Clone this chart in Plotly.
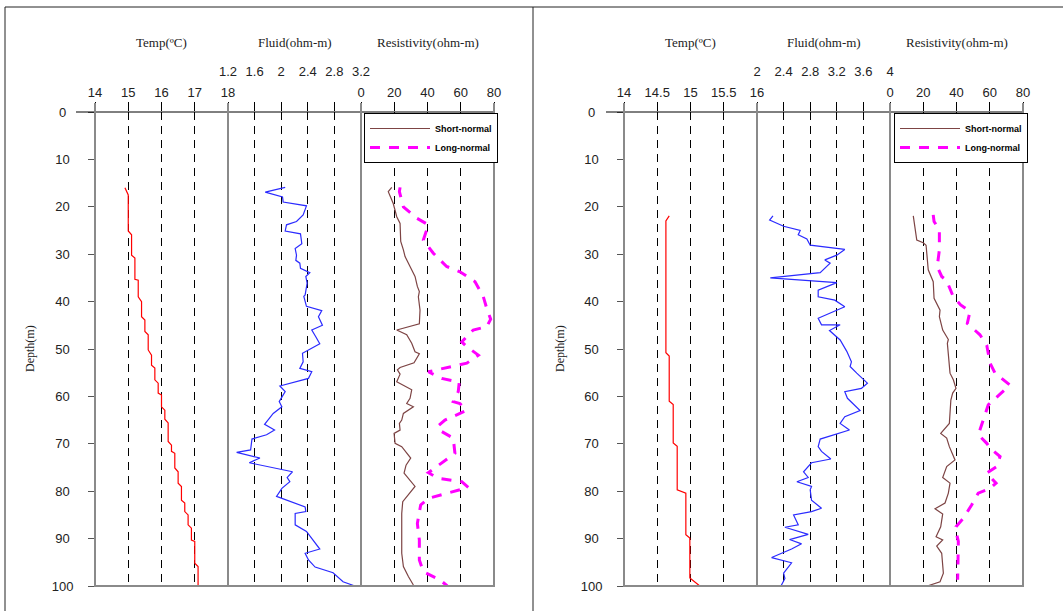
import plotly.graph_objects as go

W, H = 1063, 611

# ---------------- data : left well ----------------
L_temp_depth = [16.0, 17.5, 25.1, 25.9, 30.2, 30.8, 35.3, 35.5, 39.0, 40.0, 43.2, 43.9, 46.3, 47.0, 50.2,
                51.3, 53.4, 54.0, 56.5, 57.2, 59.3, 59.7, 62.2, 62.9, 64.8, 65.6, 69.5, 70.3, 71.6, 72.0,
                75.1, 75.9, 78.3, 79.0, 81.9, 82.5, 84.3, 85.0, 87.1, 87.8, 90.3, 90.6, 95.2, 95.9, 100.0]
L_temp = [14.9, 15.0, 15.0, 15.1, 15.1, 15.2, 15.2, 15.3, 15.3, 15.4, 15.4, 15.5, 15.5, 15.6, 15.6,
          15.7, 15.7, 15.8, 15.8, 15.9, 15.9, 16.0, 16.0, 16.1, 16.1, 16.2, 16.2, 16.3, 16.3, 16.4,
          16.4, 16.5, 16.5, 16.6, 16.6, 16.7, 16.7, 16.8, 16.8, 16.9, 16.9, 17.0, 17.0, 17.1, 17.1]

L_fluid_depth = [15.9, 16.9, 17.9, 19.0, 19.8, 21.7, 23.1, 23.8, 25.1, 25.7, 27.8, 28.8, 30.2, 31.3, 31.9,
                 33.0, 33.9, 34.7, 36.1, 38.6, 38.9, 41.0, 41.9, 43.2, 45.0, 46.0, 47.4, 48.9, 50.9, 52.7,
                 54.1, 54.8, 56.2, 57.8, 59.0, 61.1, 62.2, 63.6, 65.9, 67.1, 68.1, 69.0, 71.3, 71.8, 73.0,
                 74.0, 75.9, 77.1, 78.0, 79.4, 81.1, 83.3, 84.3, 84.7, 87.1, 88.5, 92.2, 93.1, 94.5, 96.0,
                 97.2, 99.1, 100.0]
L_fluid = [2.06, 1.76, 2.02, 2.03, 2.38, 2.33, 2.23, 2.08, 2.06, 2.29, 2.31, 2.21, 2.23, 2.22, 2.28,
           2.29, 2.43, 2.37, 2.39, 2.36, 2.34, 2.38, 2.61, 2.56, 2.62, 2.46, 2.52, 2.58, 2.32, 2.33,
           2.28, 2.46, 2.41, 1.98, 2.06, 1.97, 2.01, 1.88, 1.75, 1.90, 1.78, 1.56, 1.54, 1.33, 1.68,
           1.52, 2.17, 2.09, 2.13, 2.01, 1.93, 2.36, 2.37, 2.21, 2.21, 2.38, 2.58, 2.36, 2.41, 2.51,
           2.78, 2.93, 3.11]

L_sn_depth = [15.9, 16.8, 19.3, 22.1, 23.5, 27.3, 29.1, 30.5, 32.6, 34.7, 36.8, 37.9, 39.0, 41.8, 44.7,
              46.0, 47.0, 48.8, 50.6, 51.0, 52.9, 53.9, 54.4, 55.3, 56.9, 58.6, 60.4, 61.5, 62.2, 63.6,
              65.0, 65.7, 67.1, 67.8, 69.9, 70.6, 73.0, 74.5, 76.2, 77.6, 79.0, 82.2, 84.7, 93.1, 95.9,
              98.0, 99.8]
L_sn = [18.5, 16.4, 19.4, 21.5, 23.5, 23.9, 25.5, 26.5, 29.5, 32.5, 33.9, 35.1, 34.5, 35.5, 35.1,
        21.5, 27.5, 30.5, 32.5, 35.1, 31.9, 23.5, 21.9, 23.5, 21.5, 30.5, 29.5, 27.5, 31.5, 25.5,
        24.5, 23.1, 23.5, 19.9, 20.5, 24.5, 29.9, 27.1, 25.9, 29.1, 32.5, 25.1, 24.5, 24.5, 25.5,
        28.5, 31.5]

L_ln_depth = [15.9, 16.8, 20.0, 22.4, 23.8, 27.0, 29.8, 32.6, 33.7, 35.8, 39.0, 41.4, 43.7, 45.3, 46.0,
              48.5, 49.5, 51.3, 53.0, 53.9, 54.8, 56.2, 57.0, 59.0, 61.1, 61.5, 63.0, 65.0, 66.4, 67.4,
              68.8, 72.0, 73.5, 76.1, 77.3, 78.0, 79.2, 80.5, 81.5, 82.9, 86.8, 90.3, 94.5, 97.0, 98.7,
              100.0]
L_ln = [23.5, 23.1, 25.5, 33.5, 40.5, 37.5, 43.5, 51.5, 59.5, 68.6, 73.6, 75.6, 78.0, 75.6, 67.5,
        60.6, 63.6, 70.6, 63.6, 51.5, 40.5, 48.5, 59.1, 58.5, 55.5, 59.5, 63.2, 50.5, 45.9, 48.5,
        55.5, 56.5, 50.5, 40.5, 46.5, 60.6, 64.6, 51.5, 40.5, 35.9, 33.9, 35.1, 35.1, 37.5, 47.5,
        51.9]

# ---------------- data : right well ----------------
R_temp_depth = [21.9, 23.0, 50.8, 51.5, 61.0, 61.7, 69.8, 70.5, 79.7, 80.4, 89.2, 89.9, 98.3, 100.0]
R_temp = [14.68, 14.63, 14.63, 14.68, 14.68, 14.74, 14.74, 14.80, 14.80, 14.93, 14.93, 14.99, 14.99, 15.14]

R_fluid_depth = [21.9, 22.8, 24.1, 25.0, 25.9, 26.8, 28.1, 29.0, 30.2, 31.2, 31.9, 33.9, 35.0, 36.0, 37.6,
                 39.0, 39.7, 41.1, 43.5, 44.9, 44.9, 46.1, 48.1, 50.5, 52.7, 53.7, 55.1, 57.2, 58.3, 59.0,
                 60.4, 63.0, 64.3, 65.7, 67.1, 68.1, 69.0, 70.6, 71.6, 73.2, 74.0, 75.9, 77.1, 78.0, 79.0,
                 79.7, 81.9, 83.6, 84.3, 85.0, 87.1, 87.6, 89.1, 90.2, 91.1, 92.2, 94.0, 95.1, 97.3, 98.4,
                 100.0]
R_fluid = [2.24, 2.19, 2.40, 2.65, 2.62, 2.75, 2.80, 3.32, 3.20, 3.02, 3.10, 2.95, 2.20, 3.20, 2.92,
           2.92, 3.17, 3.32, 2.92, 2.97, 3.25, 3.09, 3.25, 3.35, 3.42, 3.40, 3.50, 3.66, 3.57, 3.32,
           3.36, 3.55, 3.32, 3.25, 3.39, 3.17, 2.95, 2.92, 2.97, 3.11, 2.82, 2.70, 2.77, 2.60, 2.82,
           2.80, 2.82, 2.97, 2.82, 2.55, 2.62, 2.42, 2.77, 2.49, 2.67, 2.52, 2.22, 2.52, 2.40, 2.42,
           2.36]

R_sn_depth = [21.9, 27.0, 27.6, 28.1, 33.3, 35.8, 39.3, 41.8, 43.2, 46.0, 48.0, 48.8, 55.1, 56.5, 58.3,
              59.3, 60.8, 65.7, 67.8, 68.8, 70.6, 73.4, 74.8, 77.1, 78.3, 80.4, 82.5, 83.7, 84.8, 87.5,
              89.6, 90.3, 91.6, 93.1, 97.3, 99.1, 100.0]
R_sn = [14.0, 16.1, 20.0, 21.7, 23.0, 26.0, 26.5, 30.1, 29.7, 31.7, 35.1, 34.5, 36.1, 38.1, 39.7,
        37.7, 36.6, 35.7, 30.5, 34.1, 35.7, 39.1, 34.1, 31.7, 36.1, 35.1, 33.1, 27.1, 31.7, 30.5,
        27.7, 31.7, 28.1, 31.1, 32.1, 30.1, 22.4]

R_ln_depth = [21.7, 23.1, 24.9, 29.1, 32.6, 34.7, 35.6, 39.0, 40.7, 42.1, 44.6, 47.0, 49.2, 53.0, 55.1,
              57.6, 59.4, 61.8, 65.0, 68.1, 69.9, 70.9, 72.7, 74.8, 76.2, 78.3, 79.4, 80.4, 82.9, 85.7,
              87.5, 88.5, 90.6, 95.2, 98.7]
R_ln = [26.0, 26.5, 29.7, 29.7, 28.4, 31.1, 34.1, 38.1, 42.5, 48.1, 46.5, 54.1, 58.2, 60.2, 63.2,
        72.2, 66.5, 59.1, 56.1, 53.1, 58.2, 60.2, 66.2, 64.2, 58.2, 63.8, 60.2, 53.1, 49.1, 44.1,
        39.7, 39.7, 41.1, 41.1, 40.7]

# ---------------- axis ticks / labels ----------------
temp_ticks_L = [14, 15, 16, 17, 18]
fluid_ticks_L = [1.2, 1.6, 2, 2.4, 2.8, 3.2]
res_ticks = [0, 20, 40, 60, 80]
temp_ticks_R = [14, 14.5, 15, 15.5, 16]
fluid_ticks_R = [2, 2.4, 2.8, 3.2, 3.6, 4]
depth_ticks = list(range(0, 101, 10))
depth_labels = ["0\u2007"] + ["%d\u2008" % d for d in range(10, 100, 10)] + ["100"]
titles = ["Temp(ºC)", "Fluid(ohm-m)", "Resistivity(ohm-m)"]


def fx(px):
    return px / W


def fy(py):
    return 1 - py / H


TOP, BOT, TICKTOP = 112, 586, 103
SANS = "Liberation Sans"
SERIF = "Liberation Serif"

fig = go.Figure()

RED = "#ff0000"
BLUE = "#2b2bff"
BROWN = "#7d4444"
MAG = "#ff00ff"

# left traces
fig.add_trace(go.Scatter(x=L_temp, y=L_temp_depth, mode="lines", line=dict(color=RED, width=1.2),
                         xaxis="x", yaxis="y", showlegend=False))
fig.add_trace(go.Scatter(x=L_fluid, y=L_fluid_depth, mode="lines", line=dict(color=BLUE, width=1.2),
                         xaxis="x2", yaxis="y", showlegend=False))
fig.add_trace(go.Scatter(x=L_sn, y=L_sn_depth, mode="lines", name="Short-normal",
                         line=dict(color=BROWN, width=1.2), xaxis="x3", yaxis="y", legend="legend"))
fig.add_trace(go.Scatter(x=L_ln, y=L_ln_depth, mode="lines", name="Long-normal",
                         line=dict(color=MAG, width=3, dash="10px,9px"), xaxis="x3", yaxis="y",
                         legend="legend"))
# right traces
fig.add_trace(go.Scatter(x=R_temp, y=R_temp_depth, mode="lines", line=dict(color=RED, width=1.2),
                         xaxis="x4", yaxis="y2", showlegend=False))
fig.add_trace(go.Scatter(x=R_fluid, y=R_fluid_depth, mode="lines", line=dict(color=BLUE, width=1.2),
                         xaxis="x5", yaxis="y2", showlegend=False))
fig.add_trace(go.Scatter(x=R_sn, y=R_sn_depth, mode="lines", name="Short-normal",
                         line=dict(color=BROWN, width=1.2), xaxis="x6", yaxis="y2", legend="legend2"))
fig.add_trace(go.Scatter(x=R_ln, y=R_ln_depth, mode="lines", name="Long-normal",
                         line=dict(color=MAG, width=3, dash="10px,9px"), xaxis="x6", yaxis="y2",
                         legend="legend2"))


def xax(x0, x1, rng, ticks, anchor, standoff):
    return dict(domain=[fx(x0), fx(x1)], range=rng, side="top", anchor=anchor, automargin=False,
                tickmode="array", tickvals=ticks, ticktext=[("%g" % t) for t in ticks],
                ticks="outside", ticklen=9, tickcolor="black", tickwidth=1,
                showgrid=True, gridcolor="black", gridwidth=1, griddash="8px,6px",
                showline=False, zeroline=False, fixedrange=True,
                tickfont=dict(family=SANS, size=13, color="#222"), ticklabelstandoff=standoff)


def yax(anchor):
    return dict(domain=[fy(BOT), fy(TOP)], range=[100, 0], anchor=anchor, automargin=False,
                tickmode="array", tickvals=depth_ticks, ticktext=depth_labels,
                ticks="outside", ticklen=6,
                tickcolor="#555", showgrid=False, zeroline=False, showline=False, fixedrange=True,
                tickfont=dict(family=SANS, size=13, color="#222"), ticklabelstandoff=12)


tracks_L = [(95, 228), (228, 361), (361, 494)]
tracks_R = [(624, 757), (757, 890), (890, 1023)]

legend_font = dict(family=SANS, size=9, color="black", weight="bold")

fig.update_layout(
    width=W, height=H, autosize=False,
    margin=dict(l=0, r=0, t=0, b=0, pad=0, autoexpand=False),
    paper_bgcolor="white", plot_bgcolor="white",
    xaxis=xax(*tracks_L[0], [14, 18], temp_ticks_L, "y", 0),
    xaxis2=xax(*tracks_L[1], [1.2, 3.2], fluid_ticks_L, "y", 21),
    xaxis3=xax(*tracks_L[2], [0, 80], res_ticks, "y", 0),
    xaxis4=xax(*tracks_R[0], [14, 16], temp_ticks_R, "y2", 0),
    xaxis5=xax(*tracks_R[1], [2, 4], fluid_ticks_R, "y2", 21),
    xaxis6=xax(*tracks_R[2], [0, 80], res_ticks, "y2", 0),
    yaxis=yax("x"),
    yaxis2=yax("x4"),
    legend=dict(x=fx(364), y=fy(113), xanchor="left", yanchor="top", bgcolor="white",
                bordercolor="black", borderwidth=1, itemwidth=60, tracegroupgap=0,
                font=legend_font),
    legend2=dict(x=fx(894), y=fy(113), xanchor="left", yanchor="top", bgcolor="white",
                 bordercolor="black", borderwidth=1, itemwidth=60, tracegroupgap=0,
                 font=legend_font),
)

shapes = []
GRAY = "#8a8a8a"
# outer frames
shapes.append(dict(type="line", xref="paper", yref="paper", x0=fx(5), x1=fx(1063), y0=fy(7), y1=fy(7),
                   line=dict(color="#222", width=1)))
for xv in (5, 533):
    shapes.append(dict(type="line", xref="paper", yref="paper", x0=fx(xv), x1=fx(xv), y0=fy(7), y1=0,
                       line=dict(color="#222", width=1)))
for tracks, start in ((tracks_L, 76), (tracks_R, 606)):
    left, right = tracks[0][0], tracks[-1][1]
    # top line
    shapes.append(dict(type="line", xref="paper", yref="paper", x0=fx(start), x1=fx(right),
                       y0=fy(TOP), y1=fy(TOP), line=dict(color="black", width=1)))
    # bottom line
    shapes.append(dict(type="line", xref="paper", yref="paper", x0=fx(left - 1), x1=fx(right + 1),
                       y0=fy(BOT), y1=fy(BOT), line=dict(color=GRAY, width=2)))
    # track borders
    for xv in [tracks[0][0]] + [t[1] for t in tracks]:
        shapes.append(dict(type="line", xref="paper", yref="paper", x0=fx(xv), x1=fx(xv),
                           y0=fy(TICKTOP), y1=fy(BOT), line=dict(color=GRAY, width=2)))
fig.update_layout(shapes=shapes)

ann = []
for tracks, ylab_x in ((tracks_L, 30), (tracks_R, 560)):
    for (a, b), t in zip(tracks, titles):
        ann.append(dict(text=t, xref="paper", yref="paper", x=fx((a + b) / 2), y=fy(42),
                        showarrow=False, xanchor="center", yanchor="middle",
                        font=dict(family=SERIF, size=13, color="#222")))
    ann.append(dict(text="Depth(m)", xref="paper", yref="paper", x=fx(ylab_x), y=fy((TOP + BOT) / 2),
                    textangle=-90, showarrow=False, xanchor="center", yanchor="middle",
                    font=dict(family=SERIF, size=12, color="#222")))
fig.update_layout(annotations=ann)

fig.write_html("out.html", config={"displayModeBar": False},
               post_script="document.body.style.margin='0';")
